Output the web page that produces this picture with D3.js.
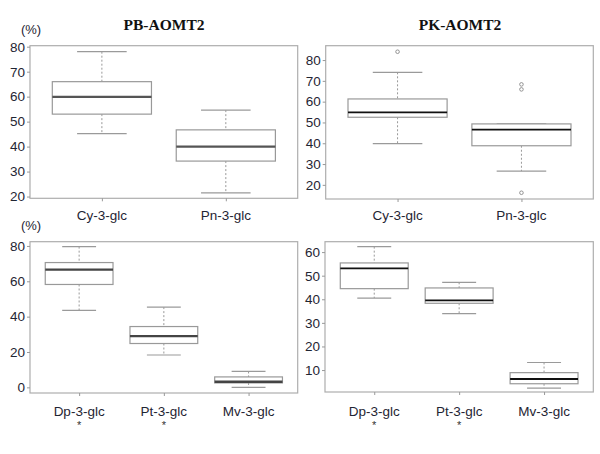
<!DOCTYPE html>
<html>
<head>
<meta charset="utf-8">
<script src="https://cdn.jsdelivr.net/npm/d3@7/dist/d3.min.js"></script>
<style>
  html, body { margin: 0; padding: 0; background: #fff; }
  svg { display: block; }
</style>
</head>
<body>
<svg id="chart" width="600" height="454"></svg>
<script>
// ---------- data ----------
const titles = ["PB-AOMT2", "PK-AOMT2"];

const topCategories = ["Cy-3-glc", "Pn-3-glc"];
const bottomCategories = ["Dp-3-glc", "Pt-3-glc", "Mv-3-glc"];
const bottomMarks = ["*", "*", ""];

// PB-AOMT2, top
const pbTopLow = [45.2, 21.5];
const pbTopQ1 = [53.0, 34.2];
const pbTopMedian = [59.9, 40.0];
const pbTopQ3 = [66.0, 46.7];
const pbTopHigh = [78.0, 54.6];
const pbTopOutliers = [[], []];

// PK-AOMT2, top
const pkTopLow = [39.8, 26.6];
const pkTopQ1 = [52.5, 38.8];
const pkTopMedian = [54.8, 46.6];
const pkTopQ3 = [61.3, 49.3];
const pkTopHigh = [74.1, 49.3];
const pkTopOutliers = [[84.0], [68.3, 65.9, 16.2]];

// PB-AOMT2, bottom
const pbBotLow = [43.5, 18.3, 0.0];
const pbBotQ1 = [58.2, 24.8, 2.5];
const pbBotMedian = [66.6, 29.0, 3.2];
const pbBotQ3 = [70.6, 34.4, 5.9];
const pbBotHigh = [79.6, 45.4, 9.0];
const pbBotOutliers = [[], [], []];

// PK-AOMT2, bottom
const pkBotLow = [40.5, 33.9, 2.3];
const pkBotQ1 = [44.5, 38.3, 4.2];
const pkBotMedian = [53.1, 39.5, 6.2];
const pkBotQ3 = [55.4, 44.8, 8.9];
const pkBotHigh = [62.3, 47.2, 13.2];
const pkBotOutliers = [[], [], []];

const ticksTopLeft = [20, 30, 40, 50, 60, 70, 80];
const ticksTopRight = [20, 30, 40, 50, 60, 70, 80];
const ticksBotLeft = [0, 20, 40, 60, 80];
const ticksBotRight = [10, 20, 30, 40, 50, 60];

// ---------- layout ----------
const panels = [
  { x0: 30, x1: 297.7, y0: 45.7, y1: 198.3, dom: [19.3, 80.4], ticks: ticksTopLeft,
    cats: topCategories, marks: null, low: pbTopLow, q1: pbTopQ1, med: pbTopMedian, q3: pbTopQ3, high: pbTopHigh, out: pbTopOutliers,
    medColor: "#555", medW: 2.4, labelY: 220 },
  { x0: 325.7, x1: 593.3, y0: 45.7, y1: 199, dom: [13.2, 86.9], ticks: ticksTopRight,
    cats: topCategories, marks: null, low: pkTopLow, q1: pkTopQ1, med: pkTopMedian, q3: pkTopQ3, high: pkTopHigh, out: pkTopOutliers,
    medColor: "#111", medW: 1.8, labelY: 220 },
  { x0: 30, x1: 297.7, y0: 241.7, y1: 393, dom: [-3.2, 82.4], ticks: ticksBotLeft,
    cats: bottomCategories, marks: bottomMarks, low: pbBotLow, q1: pbBotQ1, med: pbBotMedian, q3: pbBotQ3, high: pbBotHigh, out: pbBotOutliers,
    medColor: "#444", medW: 2.4, labelY: 416 },
  { x0: 325, x1: 593.3, y0: 241.7, y1: 392, dom: [0.7, 64.4], ticks: ticksBotRight,
    cats: bottomCategories, marks: bottomMarks, low: pkBotLow, q1: pkBotQ1, med: pkBotMedian, q3: pkBotQ3, high: pkBotHigh, out: pkBotOutliers,
    medColor: "#111", medW: 1.8, labelY: 416 }
];

const svg = d3.select("#chart");
const font = "'Liberation Sans', Arial, sans-serif";
const textColor = "#1f2533";

panels.forEach(p => {
  const n = p.cats.length;
  const x = d3.scaleLinear().domain([0.42, n + 0.58]).range([p.x0, p.x1]);
  const y = d3.scaleLinear().domain(p.dom).range([p.y1, p.y0]);
  const g = svg.append("g");

  // frame
  g.append("rect")
    .attr("x", p.x0).attr("y", p.y0)
    .attr("width", p.x1 - p.x0).attr("height", p.y1 - p.y0)
    .attr("fill", "none").attr("stroke", "#adadad").attr("stroke-width", 1.2);

  // y axis
  const yAxis = d3.axisLeft(y).tickValues(p.ticks).tickSize(3).tickPadding(2).tickFormat(d3.format("d"));
  const ya = g.append("g").attr("transform", `translate(${p.x0},0)`).call(yAxis);
  ya.select(".domain").remove();
  ya.selectAll(".tick line").attr("stroke", "#999");
  ya.selectAll(".tick text").attr("fill", textColor).style("font-family", font).style("font-size", "13.5px");

  // x axis ticks
  const idx = d3.range(1, n + 1);
  const xAxis = d3.axisBottom(x).tickValues(idx).tickSize(3).tickFormat("");
  const xa = g.append("g").attr("transform", `translate(0,${p.y1})`).call(xAxis);
  xa.select(".domain").remove();
  xa.selectAll(".tick line").attr("stroke", "#999");

  // x labels
  g.selectAll(".xl").data(p.cats).enter().append("text")
    .attr("x", (d, i) => x(i + 1)).attr("y", p.labelY)
    .attr("text-anchor", "middle").attr("fill", textColor)
    .style("font-family", font).style("font-size", "13.5px").text(d => d);
  if (p.marks) {
    g.selectAll(".mk").data(p.marks).enter().append("text")
      .attr("x", (d, i) => x(i + 1)).attr("y", p.labelY + 13)
      .attr("text-anchor", "middle").attr("fill", "#333")
      .style("font-family", font).style("font-size", "11px").text(d => d);
  }

  const bw = (x(1.4) - x(0.6));
  idx.forEach((c, i) => {
    const cx = x(c);
    // whiskers (dashed)
    g.append("line").attr("x1", cx).attr("x2", cx).attr("y1", y(p.high[i])).attr("y2", y(p.q3[i]))
      .attr("stroke", "#999").attr("stroke-dasharray", "2,2");
    g.append("line").attr("x1", cx).attr("x2", cx).attr("y1", y(p.q1[i])).attr("y2", y(p.low[i]))
      .attr("stroke", "#999").attr("stroke-dasharray", "2,2");
    // caps
    [p.high[i], p.low[i]].forEach(v => {
      g.append("line").attr("x1", cx - bw / 4).attr("x2", cx + bw / 4).attr("y1", y(v)).attr("y2", y(v))
        .attr("stroke", "#9a9a9a").attr("stroke-width", 1.2);
    });
    // box
    g.append("rect").attr("x", cx - bw / 2).attr("width", bw)
      .attr("y", y(p.q3[i])).attr("height", y(p.q1[i]) - y(p.q3[i]))
      .attr("fill", "#fff").attr("stroke", "#999").attr("stroke-width", 1.2);
    // median
    g.append("line").attr("x1", cx - bw / 2).attr("x2", cx + bw / 2)
      .attr("y1", y(p.med[i])).attr("y2", y(p.med[i]))
      .attr("stroke", p.medColor).attr("stroke-width", p.medW);
    // outliers
    p.out[i].forEach(v => {
      g.append("circle").attr("cx", cx).attr("cy", y(v)).attr("r", 1.8)
        .attr("fill", "none").attr("stroke", "#888").attr("stroke-width", 0.9);
    });
  });
});

// titles
svg.append("text").attr("x", 164).attr("y", 30).attr("text-anchor", "middle")
  .style("font-family", "'Liberation Serif', 'Times New Roman', serif").style("font-weight", "bold").style("font-size", "15.5px")
  .attr("fill", "#111").text(titles[0]);
svg.append("text").attr("x", 460).attr("y", 30).attr("text-anchor", "middle")
  .style("font-family", "'Liberation Serif', 'Times New Roman', serif").style("font-weight", "bold").style("font-size", "15.5px")
  .attr("fill", "#111").text(titles[1]);

// unit labels
[34, 230].forEach(yy => {
  svg.append("text").attr("x", 31).attr("y", yy).attr("text-anchor", "middle")
    .style("font-family", font).style("font-size", "13px").attr("fill", textColor).text("(%)");
});
</script>
</body>
</html>
